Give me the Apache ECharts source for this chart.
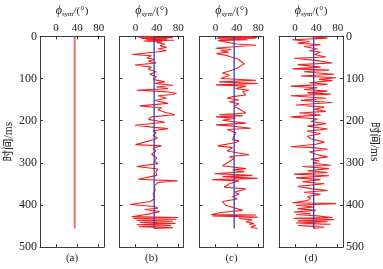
<!DOCTYPE html>
<html>
<head>
<meta charset="utf-8">
<script src="https://cdn.jsdelivr.net/npm/echarts@6/dist/echarts.min.js"></script>
<style>html,body{margin:0;padding:0;background:#fff}#chart{width:383px;height:269px}</style>
</head>
<body>
<div id="chart"></div>
<script>
var panelNames = ['(a)', '(b)', '(c)', '(d)'];
var phiTicks = [0, 40, 80];
var refPhi = 35;
var refTime = [0, 456];

// [time ms, phi deg]
var traceA = [[0,35],[456,35]];
var traceB = [[0,35],[2,5],[3,70],[5,10],[6,60],[8,20],[9,72],[11,15],[13,50],[15,40],[18,55],[20,58],[22,46],[26,58],[30,42],[34,58],[37,39],[43,-6],[46,30],[51,21],[55,36],[59,24],[63,39],[68,-1],[73,30],[78,24],[84,39],[90,27],[96,39],[102,33],[108,55],[112,36],[116,70],[120,39],[124,61],[128,2],[131,55],[135,77],[138,70],[141,42],[147,58],[152,36],[159,61],[165,8],[170,49],[174,42],[180,55],[186,74],[191,30],[197,24],[204,55],[211,-1],[216,36],[219,61],[224,33],[229,39],[235,33],[241,41],[245,35],[257,0],[260,49],[265,33],[272,38],[280,30],[288,40],[296,36],[302,42],[309,2],[315,42],[322,38],[330,40],[339,5],[343,79],[347,42],[355,35],[365,37],[375,33],[385,36],[392,28],[399,-10],[404,36],[408,42],[411,17],[416,45],[422,24],[428,-7],[430,80],[432,-4],[434,77],[437,2],[439,70],[442,8],[444,75],[447,2],[449,67],[452,6],[454,70],[456,35]];
var traceC = [[0,35],[1,70],[2,5],[3,78],[4,2],[5,75],[6,8],[8,60],[10,5],[14,2],[18,40],[21,76],[24,40],[28,0],[31,30],[34,10],[37,25],[41,2],[45,20],[49,30],[53,41],[57,44],[65,54],[73,44],[80,32],[87,13],[92,26],[100,10],[104,76],[108,7],[112,79],[115,1],[118,57],[124,38],[128,63],[131,51],[139,57],[143,32],[147,22],[151,44],[155,26],[160,44],[166,35],[174,47],[182,57],[186,7],[188,51],[191,1],[194,38],[199,13],[206,57],[210,1],[213,32],[218,66],[221,22],[229,38],[237,35],[245,32],[248,44],[252,38],[260,4],[264,32],[272,22],[281,63],[285,26],[290,35],[300,22],[307,13],[314,57],[317,32],[321,54],[326,-2],[330,69],[333,13],[337,79],[340,-6],[343,44],[350,26],[358,16],[362,57],[370,35],[375,44],[380,32],[386,41],[392,13],[401,19],[405,22],[413,51],[418,10],[423,-8],[424,76],[426,-6],[429,79],[432,44],[436,69],[440,57],[444,72],[446,63],[449,76],[453,66],[456,79]];
var traceD = [[0,36],[1,30],[4,61],[8,-5],[12,27],[16,5],[20,48],[24,17],[30,42],[34,27],[37,48],[43,36],[49,58],[52,-2],[57,39],[63,70],[67,5],[73,48],[77,-5],[80,64],[84,17],[90,73],[94,11],[98,77],[102,45],[105,70],[110,27],[114,61],[118,-8],[122,42],[126,17],[130,61],[134,23],[137,67],[141,-8],[147,58],[152,11],[157,70],[163,2],[168,55],[173,36],[178,58],[182,8],[187,48],[191,-8],[196,42],[202,30],[207,58],[213,23],[220,61],[225,23],[231,48],[237,23],[243,30],[245,36],[251,55],[256,39],[262,-8],[264,33],[268,61],[274,27],[280,39],[286,61],[292,30],[296,45],[301,33],[306,67],[309,14],[314,64],[319,23],[323,61],[327,-2],[331,64],[336,2],[340,48],[345,14],[350,55],[356,5],[362,33],[366,61],[370,17],[375,48],[380,23],[384,30],[390,23],[395,-5],[397,77],[401,2],[405,36],[409,5],[413,39],[417,-2],[421,30],[423,2],[426,42],[430,70],[432,-2],[435,73],[438,5],[440,61],[443,2],[446,67],[449,5],[453,55],[456,34]];

var traces = [traceA, traceB, traceC, traceD];
var serif = "'Liberation Serif', 'Times New Roman', 'Noto Sans CJK SC', serif";
var lefts = [40, 119.5, 199.5, 279];

function toXY(trace)
{
    return trace.map(function (p) { return [p[1], p[0]]; });
}

function createChart(dom)
{
    var chart = echarts.init(dom);
    var grid = [], xAxis = [], yAxis = [], series = [];
    var lineStyle = {color: '#3a3a3a', width: 1};

    for (var i = 0; i < 4; i++) {
        grid.push({left: lefts[i], top: 34, width: 64, height: 213});

        xAxis.push({type: 'value', gridIndex: i, position: 'top', min: -30, max: 90,
            name: '{phi|ϕ}{sub|sym}{n|/(°)}', nameLocation: 'middle', nameGap: 15,
            nameTextStyle: {color: '#222', rich: {
                phi: {fontFamily: serif, fontStyle: 'italic', fontSize: 12, color: '#222'},
                sub: {fontFamily: serif, fontSize: 7, color: '#222', padding: [6, 0, 0, 0]},
                n: {fontFamily: serif, fontSize: 11, color: '#222'}}},
            axisLine: {onZero: false, lineStyle: lineStyle},
            axisTick: {inside: true, length: 3, customValues: phiTicks, lineStyle: lineStyle},
            axisLabel: {customValues: phiTicks, margin: 3, fontSize: 11, fontFamily: serif, color: '#222'},
            splitLine: {show: false}});
        xAxis.push({type: 'value', gridIndex: i, position: 'bottom', min: -30, max: 90,
            name: panelNames[i], nameLocation: 'middle', nameGap: 6,
            nameTextStyle: {fontFamily: serif, fontSize: 11, color: '#222'},
            axisLine: {onZero: false, lineStyle: lineStyle},
            axisTick: {inside: true, length: 3, customValues: phiTicks, lineStyle: lineStyle},
            axisLabel: {show: false}, splitLine: {show: false}});

        yAxis.push({type: 'value', gridIndex: i, position: 'left', inverse: true, min: 0, max: 500, interval: 100,
            name: i === 0 ? '时间/ms' : '', nameLocation: 'middle', nameGap: 20,
            nameTextStyle: {fontFamily: serif, fontSize: 11.5, color: '#222'},
            axisLine: {onZero: false, lineStyle: lineStyle},
            axisTick: {inside: true, length: 3, lineStyle: lineStyle},
            axisLabel: {show: i === 0, margin: 3, fontSize: 12, fontFamily: serif, color: '#222'},
            splitLine: {show: false}});
        yAxis.push({type: 'value', gridIndex: i, position: 'right', inverse: true, min: 0, max: 500, interval: 100,
            name: i === 3 ? '时间/ms' : '', nameLocation: 'middle', nameGap: 24, nameRotate: -90,
            nameTextStyle: {fontFamily: serif, fontSize: 11.5, color: '#222'},
            axisLine: {onZero: false, lineStyle: lineStyle},
            axisTick: {inside: true, length: 3, lineStyle: lineStyle},
            axisLabel: {show: i === 3, margin: 3, fontSize: 12, fontFamily: serif, color: '#222'},
            splitLine: {show: false}});

        series.push({type: 'line', xAxisIndex: 2 * i, yAxisIndex: 2 * i, data: toXY(traces[i]),
            symbol: 'none', animation: false,
            lineStyle: i === 0 ? {color: '#f26a6a', width: 2} : {color: '#f42020', width: 1.1}});
        if (i > 0) {
            series.push({type: 'line', xAxisIndex: 2 * i, yAxisIndex: 2 * i,
                data: refTime.map(function (t) { return [refPhi, t]; }),
                symbol: 'none', animation: false, lineStyle: {color: '#2447c2', width: 1.3}});
        }
    }

    chart.setOption({animation: false, grid: grid, xAxis: xAxis, yAxis: yAxis, series: series});
}

createChart(document.getElementById('chart'));
</script>
</body>
</html>
